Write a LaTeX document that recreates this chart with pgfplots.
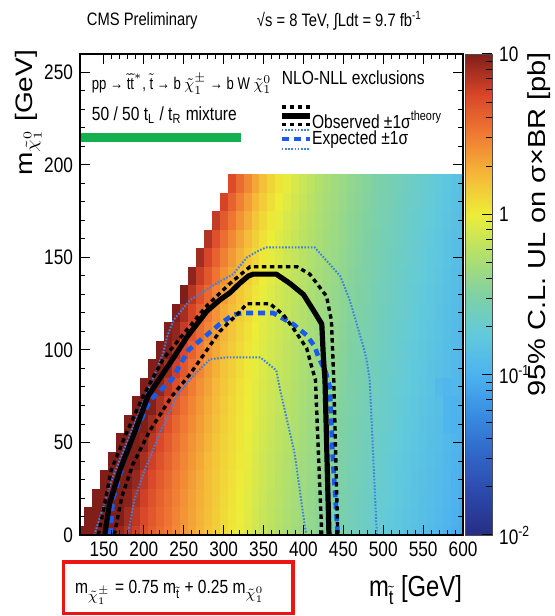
\documentclass[border=0pt]{standalone}
\usepackage{pgfplots}
\pgfplotsset{compat=1.18}
\usepackage{amsmath}
\usepackage{graphicx}
\usepackage{fontspec}
\setmainfont{Liberation Sans}[FakeStretch=0.82]
\newfontfamily\rotfont{Liberation Sans}
\pgfdeclareplotmark{cell}{\pgfpathrectangle{\pgfqpoint{-2.03pt}{-4.66pt}}{\pgfqpoint{4.06pt}{9.32pt}}\pgfusepathqfill}
\definecolor{cmsgreen}{rgb}{0.08,0.69,0.31}
\definecolor{expblue}{rgb}{0.10,0.36,0.92}
\definecolor{expblue2}{rgb}{0.25,0.50,0.88}
\definecolor{boxred}{rgb}{0.93,0.08,0.08}
\tikzset{
 obsline/.style={black,line width=2.6pt,line join=round},
 obssig/.style={black,line width=1.7pt,dash pattern=on 2.2pt off 1.8pt},
 expline/.style={expblue,line width=2.3pt,dash pattern=on 3.5pt off 2.5pt},
 expsig/.style={expblue2,line width=1pt,dash pattern=on 0.8pt off 0.8pt},
 ann/.style={inner sep=0pt,outer sep=0pt},
}
\pgfplotsset{colormap={cms}{rgb(0pt)=(0.15,0.18,0.52); rgb(25pt)=(0.17,0.28,0.66); rgb(50pt)=(0.19,0.40,0.78); rgb(75pt)=(0.22,0.55,0.88); rgb(100pt)=(0.30,0.70,0.94); rgb(125pt)=(0.38,0.79,0.86); rgb(150pt)=(0.50,0.82,0.64); rgb(175pt)=(0.70,0.88,0.42); rgb(200pt)=(0.93,0.93,0.22); rgb(225pt)=(0.96,0.72,0.22); rgb(250pt)=(0.94,0.48,0.20); rgb(275pt)=(0.85,0.27,0.16); rgb(300pt)=(0.50,0.12,0.10)}}
\begin{document}
\begin{tikzpicture}
\useasboundingbox (-40pt,-40.5pt) rectangle (237pt,267.5pt);
\begin{axis}[
 at={(0pt,0pt)}, anchor=south west,
 x=0.399pt, y=0.925pt,
 xmin=120, xmax=600, ymin=0, ymax=260,
 axis on top,
 colormap name=cms,
 point meta min=-2, point meta max=1,
 colorbar right,
 colorbar style={
  at={(parent axis.north east)}, anchor=north west, xshift=-7.5pt,
  width=13.5pt,
  ytick={-2,-1,0,1},
  yticklabels={10\textsuperscript{-2},10\textsuperscript{-1},1,10},
  minor ytick={-1.699,-1.523,-1.398,-1.301,-1.222,-1.155,-1.097,-1.046,-0.699,-0.523,-0.398,-0.301,-0.222,-0.155,-0.097,-0.046,0.301,0.477,0.602,0.699,0.778,0.845,0.903,0.954},
  ytick pos=right, yticklabel pos=right,
  tick align=inside,
  major tick length=5pt, minor tick length=3pt,
  tick style={black,line width=0.5pt},
  yticklabel style={font=\fontsize{10.5}{12}\selectfont},
  axis line style={line width=0.4pt,black!70},
 },
 xtick={150,200,...,600}, ytick={0,50,...,250},
 minor x tick num=4, minor y tick num=4,
 tick align=inside,
 major tick length=5pt, minor tick length=2.5pt,
 tick style={black,line width=0.5pt},
 axis line style={line width=0.7pt},
 /pgf/number format/assume math mode=true,
 ticklabel style={font=\fontsize{10.5}{12}\selectfont},
 clip marker paths=true,
 after end axis/.code={
  \node[ann,anchor=west,font=\fontsize{9}{11}\selectfont] at (axis description cs:0.018,1.069) {CMS Preliminary};
  \node[ann,anchor=west,font=\fontsize{9}{11}\selectfont] at (axis description cs:0.462,1.069) {√s = 8 TeV, ∫Ldt = 9.7 fb\textsuperscript{-1}};
  \node[ann,rotate=90,anchor=base east,font=\fontsize{14}{16}\selectfont\rotfont] at (axis description cs:-0.125,1.008) {\scalebox{1}[0.85]{m$_{\tilde{\chi}^{0}_{1}}$ [GeV]}};
  \node[ann,rotate=90,anchor=base east,font=\fontsize{14.5}{17}\selectfont\rotfont] at (axis description cs:1.214,1.004) {\scalebox{1}[0.85]{95\% C.L. UL on σ×BR [pb]}};
  \node[ann,anchor=base east,font=\fontsize{14.5}{17}\selectfont] at (axis description cs:0.997,-0.127) {m$_{\tilde{\text{t}}}$ [GeV]};
  \draw[boxred,line width=1.6pt] (axis description cs:-0.044,-0.056) rectangle (axis description cs:0.556,-0.164);
  \node[ann,anchor=base west,font=\fontsize{9.5}{11}\selectfont] at (axis description cs:-0.013,-0.121) {m$_{\tilde{\chi}^{\pm}_{1}}$ = 0.75 m$_{\tilde{\text{t}}}$ + 0.25 m$_{\tilde{\chi}^{0}_{1}}$};
  \node[ann,anchor=west,font=\fontsize{8.5}{10}\selectfont] at (axis description cs:0.031,0.938) {\scalebox{0.94}[1]{pp → $\tilde{\text{t}}\tilde{\text{t}}^{*}$, $\tilde{\text{t}}$ → b $\tilde{\chi}^{\pm}_{1}$ → b W $\tilde{\chi}^{0}_{1}$}};
  \node[ann,anchor=west,font=\fontsize{9.5}{11}\selectfont] at (axis description cs:0.031,0.873) {50 / 50 t$_{\text{L}}$ / t$_{\text{R}}$ mixture};
  \node[ann,anchor=west,font=\fontsize{9.5}{11}\selectfont] at (axis description cs:0.527,0.950) {NLO-NLL exclusions};
  \node[ann,anchor=west,font=\fontsize{9.5}{11}\selectfont] at (axis description cs:0.606,0.863) {Observed ±1σ\textsuperscript{theory}};
  \node[ann,anchor=west,font=\fontsize{9.5}{11}\selectfont] at (axis description cs:0.606,0.823) {Expected ±1σ};
  \draw[obsline] (axis description cs:0.527,0.871) -- (axis description cs:0.601,0.871);
  \draw[obssig] (axis description cs:0.527,0.890) -- (axis description cs:0.601,0.890);
  \draw[obssig] (axis description cs:0.527,0.854) -- (axis description cs:0.601,0.854);
  \draw[expsig] (axis description cs:0.527,0.842) -- (axis description cs:0.601,0.842);
  \draw[expsig] (axis description cs:0.527,0.802) -- (axis description cs:0.601,0.802);
  \draw[expline] (axis description cs:0.527,0.823) -- (axis description cs:0.601,0.823);
 },
]
\addplot[scatter, only marks, mark=cell, scatter src=explicit] table[row sep=\\, meta=c] {
x y c\\
120 0 1.00\\130 0 1.00\\140 0 1.00\\150 0 1.00\\160 0 1.00\\170 0 0.94\\180 0 0.86\\190 0 0.79\\200 0 0.71\\210 0 0.63\\220 0 0.57\\230 0 0.51\\240 0 0.44\\250 0 0.38\\260 0 0.32\\270 0 0.26\\280 0 0.20\\290 0 0.14\\300 0 0.08\\310 0 0.03\\320 0 -0.02\\330 0 -0.07\\340 0 -0.12\\350 0 -0.17\\360 0 -0.21\\370 0 -0.25\\380 0 -0.29\\390 0 -0.33\\400 0 -0.37\\410 0 -0.41\\420 0 -0.45\\430 0 -0.49\\440 0 -0.52\\450 0 -0.56\\460 0 -0.60\\470 0 -0.63\\480 0 -0.66\\490 0 -0.70\\500 0 -0.73\\510 0 -0.76\\520 0 -0.79\\530 0 -0.82\\540 0 -0.85\\550 0 -0.88\\560 0 -0.91\\570 0 -0.94\\580 0 -0.98\\590 0 -1.02\\600 0 -1.05\\
130 10 1.00\\140 10 1.00\\150 10 1.00\\160 10 1.00\\170 10 1.00\\180 10 0.91\\190 10 0.83\\200 10 0.74\\210 10 0.66\\220 10 0.59\\230 10 0.53\\240 10 0.46\\250 10 0.39\\260 10 0.33\\270 10 0.27\\280 10 0.21\\290 10 0.15\\300 10 0.09\\310 10 0.04\\320 10 -0.01\\330 10 -0.06\\340 10 -0.11\\350 10 -0.16\\360 10 -0.20\\370 10 -0.24\\380 10 -0.28\\390 10 -0.32\\400 10 -0.36\\410 10 -0.40\\420 10 -0.44\\430 10 -0.48\\440 10 -0.51\\450 10 -0.55\\460 10 -0.59\\470 10 -0.62\\480 10 -0.65\\490 10 -0.69\\500 10 -0.72\\510 10 -0.75\\520 10 -0.78\\530 10 -0.81\\540 10 -0.84\\550 10 -0.87\\560 10 -0.90\\570 10 -0.93\\580 10 -0.97\\590 10 -1.01\\600 10 -1.04\\
140 20 1.00\\150 20 1.00\\160 20 1.00\\170 20 1.00\\180 20 0.97\\190 20 0.88\\200 20 0.78\\210 20 0.69\\220 20 0.62\\230 20 0.55\\240 20 0.48\\250 20 0.41\\260 20 0.34\\270 20 0.28\\280 20 0.22\\290 20 0.16\\300 20 0.10\\310 20 0.05\\320 20 0.00\\330 20 -0.05\\340 20 -0.10\\350 20 -0.15\\360 20 -0.19\\370 20 -0.23\\380 20 -0.27\\390 20 -0.31\\400 20 -0.35\\410 20 -0.39\\420 20 -0.43\\430 20 -0.47\\440 20 -0.50\\450 20 -0.54\\460 20 -0.58\\470 20 -0.61\\480 20 -0.64\\490 20 -0.68\\500 20 -0.71\\510 20 -0.74\\520 20 -0.77\\530 20 -0.80\\540 20 -0.83\\550 20 -0.86\\560 20 -0.89\\570 20 -0.92\\580 20 -0.96\\590 20 -1.00\\600 20 -1.03\\
150 30 1.00\\160 30 1.00\\170 30 1.00\\180 30 1.00\\190 30 0.94\\200 30 0.83\\210 30 0.73\\220 30 0.65\\230 30 0.58\\240 30 0.50\\250 30 0.43\\260 30 0.36\\270 30 0.29\\280 30 0.23\\290 30 0.17\\300 30 0.11\\310 30 0.06\\320 30 0.01\\330 30 -0.04\\340 30 -0.09\\350 30 -0.14\\360 30 -0.18\\370 30 -0.22\\380 30 -0.26\\390 30 -0.30\\400 30 -0.34\\410 30 -0.38\\420 30 -0.42\\430 30 -0.46\\440 30 -0.49\\450 30 -0.53\\460 30 -0.57\\470 30 -0.60\\480 30 -0.63\\490 30 -0.67\\500 30 -0.70\\510 30 -0.73\\520 30 -0.76\\530 30 -0.79\\540 30 -0.82\\550 30 -0.85\\560 30 -0.88\\570 30 -0.91\\580 30 -0.95\\590 30 -0.99\\600 30 -1.02\\
160 40 1.00\\170 40 1.00\\180 40 1.00\\190 40 1.00\\200 40 0.89\\210 40 0.78\\220 40 0.69\\230 40 0.61\\240 40 0.53\\250 40 0.45\\260 40 0.38\\270 40 0.31\\280 40 0.24\\290 40 0.18\\300 40 0.12\\310 40 0.07\\320 40 0.02\\330 40 -0.03\\340 40 -0.08\\350 40 -0.13\\360 40 -0.17\\370 40 -0.21\\380 40 -0.25\\390 40 -0.29\\400 40 -0.33\\410 40 -0.37\\420 40 -0.41\\430 40 -0.45\\440 40 -0.48\\450 40 -0.52\\460 40 -0.56\\470 40 -0.59\\480 40 -0.62\\490 40 -0.66\\500 40 -0.69\\510 40 -0.72\\520 40 -0.75\\530 40 -0.78\\540 40 -0.81\\550 40 -0.84\\560 40 -0.87\\570 40 -0.90\\580 40 -0.94\\590 40 -0.98\\600 40 -1.01\\
170 50 1.00\\180 50 1.00\\190 50 1.00\\200 50 0.96\\210 50 0.84\\220 50 0.74\\230 50 0.65\\240 50 0.56\\250 50 0.48\\260 50 0.40\\270 50 0.33\\280 50 0.26\\290 50 0.19\\300 50 0.13\\310 50 0.08\\320 50 0.03\\330 50 -0.02\\340 50 -0.07\\350 50 -0.12\\360 50 -0.16\\370 50 -0.20\\380 50 -0.24\\390 50 -0.28\\400 50 -0.32\\410 50 -0.36\\420 50 -0.40\\430 50 -0.44\\440 50 -0.47\\450 50 -0.51\\460 50 -0.55\\470 50 -0.58\\480 50 -0.61\\490 50 -0.65\\500 50 -0.68\\510 50 -0.71\\520 50 -0.74\\530 50 -0.77\\540 50 -0.80\\550 50 -0.83\\560 50 -0.86\\570 50 -0.89\\580 50 -0.93\\590 50 -0.97\\600 50 -1.00\\
180 60 1.00\\190 60 1.00\\200 60 1.00\\210 60 0.91\\220 60 0.80\\230 60 0.70\\240 60 0.60\\250 60 0.51\\260 60 0.43\\270 60 0.35\\280 60 0.28\\290 60 0.21\\300 60 0.14\\310 60 0.09\\320 60 0.04\\330 60 -0.01\\340 60 -0.06\\350 60 -0.11\\360 60 -0.15\\370 60 -0.19\\380 60 -0.23\\390 60 -0.27\\400 60 -0.31\\410 60 -0.35\\420 60 -0.39\\430 60 -0.43\\440 60 -0.46\\450 60 -0.50\\460 60 -0.54\\470 60 -0.57\\480 60 -0.60\\490 60 -0.64\\500 60 -0.67\\510 60 -0.70\\520 60 -0.73\\530 60 -0.76\\540 60 -0.79\\550 60 -0.82\\560 60 -0.85\\570 60 -0.88\\580 60 -0.97\\590 60 -0.99\\600 60 -0.99\\
190 70 1.00\\200 70 1.00\\210 70 0.99\\220 70 0.87\\230 70 0.76\\240 70 0.65\\250 70 0.55\\260 70 0.46\\270 70 0.38\\280 70 0.30\\290 70 0.23\\300 70 0.16\\310 70 0.10\\320 70 0.05\\330 70 0.00\\340 70 -0.05\\350 70 -0.10\\360 70 -0.14\\370 70 -0.18\\380 70 -0.22\\390 70 -0.26\\400 70 -0.30\\410 70 -0.34\\420 70 -0.38\\430 70 -0.42\\440 70 -0.45\\450 70 -0.49\\460 70 -0.53\\470 70 -0.56\\480 70 -0.59\\490 70 -0.63\\500 70 -0.66\\510 70 -0.69\\520 70 -0.72\\530 70 -0.75\\540 70 -0.78\\550 70 -0.81\\560 70 -0.84\\570 70 -0.87\\580 70 -0.97\\590 70 -0.99\\600 70 -0.98\\
200 80 1.00\\210 80 1.00\\220 80 0.95\\230 80 0.83\\240 80 0.71\\250 80 0.60\\260 80 0.50\\270 80 0.41\\280 80 0.33\\290 80 0.25\\300 80 0.18\\310 80 0.12\\320 80 0.06\\330 80 0.01\\340 80 -0.04\\350 80 -0.09\\360 80 -0.13\\370 80 -0.17\\380 80 -0.21\\390 80 -0.25\\400 80 -0.29\\410 80 -0.33\\420 80 -0.37\\430 80 -0.41\\440 80 -0.44\\450 80 -0.48\\460 80 -0.52\\470 80 -0.55\\480 80 -0.58\\490 80 -0.62\\500 80 -0.65\\510 80 -0.68\\520 80 -0.71\\530 80 -0.74\\540 80 -0.77\\550 80 -0.80\\560 80 -0.83\\570 80 -0.92\\580 80 -0.96\\590 80 -0.94\\600 80 -0.97\\
210 90 1.00\\220 90 1.00\\230 90 0.91\\240 90 0.78\\250 90 0.66\\260 90 0.55\\270 90 0.45\\280 90 0.36\\290 90 0.28\\300 90 0.20\\310 90 0.14\\320 90 0.08\\330 90 0.02\\340 90 -0.03\\350 90 -0.08\\360 90 -0.12\\370 90 -0.16\\380 90 -0.20\\390 90 -0.24\\400 90 -0.28\\410 90 -0.32\\420 90 -0.36\\430 90 -0.40\\440 90 -0.43\\450 90 -0.47\\460 90 -0.51\\470 90 -0.54\\480 90 -0.57\\490 90 -0.61\\500 90 -0.64\\510 90 -0.67\\520 90 -0.70\\530 90 -0.73\\540 90 -0.76\\550 90 -0.79\\560 90 -0.82\\570 90 -0.85\\580 90 -0.89\\590 90 -0.93\\600 90 -0.96\\
220 100 1.00\\230 100 1.00\\240 100 0.86\\250 100 0.73\\260 100 0.61\\270 100 0.50\\280 100 0.40\\290 100 0.31\\300 100 0.23\\310 100 0.16\\320 100 0.10\\330 100 0.04\\340 100 -0.02\\350 100 -0.07\\360 100 -0.11\\370 100 -0.15\\380 100 -0.19\\390 100 -0.23\\400 100 -0.27\\410 100 -0.31\\420 100 -0.35\\430 100 -0.39\\440 100 -0.42\\450 100 -0.46\\460 100 -0.50\\470 100 -0.53\\480 100 -0.56\\490 100 -0.60\\500 100 -0.63\\510 100 -0.66\\520 100 -0.69\\530 100 -0.72\\540 100 -0.75\\550 100 -0.78\\560 100 -0.81\\570 100 -0.84\\580 100 -0.88\\590 100 -0.92\\600 100 -0.95\\
230 110 1.00\\240 110 0.95\\250 110 0.81\\260 110 0.68\\270 110 0.56\\280 110 0.45\\290 110 0.35\\300 110 0.26\\310 110 0.19\\320 110 0.12\\330 110 0.06\\340 110 0.00\\350 110 -0.06\\360 110 -0.10\\370 110 -0.14\\380 110 -0.18\\390 110 -0.22\\400 110 -0.26\\410 110 -0.30\\420 110 -0.34\\430 110 -0.38\\440 110 -0.41\\450 110 -0.45\\460 110 -0.49\\470 110 -0.52\\480 110 -0.55\\490 110 -0.59\\500 110 -0.62\\510 110 -0.65\\520 110 -0.68\\530 110 -0.71\\540 110 -0.74\\550 110 -0.77\\560 110 -0.80\\570 110 -0.83\\580 110 -0.87\\590 110 -0.91\\600 110 -0.94\\
240 120 1.00\\250 120 0.90\\260 120 0.76\\270 120 0.63\\280 120 0.51\\290 120 0.40\\300 120 0.30\\310 120 0.22\\320 120 0.15\\330 120 0.08\\340 120 0.02\\350 120 -0.04\\360 120 -0.09\\370 120 -0.13\\380 120 -0.17\\390 120 -0.21\\400 120 -0.25\\410 120 -0.29\\420 120 -0.33\\430 120 -0.37\\440 120 -0.40\\450 120 -0.44\\460 120 -0.48\\470 120 -0.51\\480 120 -0.54\\490 120 -0.58\\500 120 -0.61\\510 120 -0.64\\520 120 -0.67\\530 120 -0.70\\540 120 -0.73\\550 120 -0.76\\560 120 -0.79\\570 120 -0.82\\580 120 -0.86\\590 120 -0.90\\600 120 -0.93\\
250 130 1.00\\260 130 0.85\\270 130 0.71\\280 130 0.58\\290 130 0.46\\300 130 0.35\\310 130 0.26\\320 130 0.18\\330 130 0.11\\340 130 0.04\\350 130 -0.02\\360 130 -0.07\\370 130 -0.12\\380 130 -0.16\\390 130 -0.20\\400 130 -0.24\\410 130 -0.28\\420 130 -0.32\\430 130 -0.36\\440 130 -0.39\\450 130 -0.43\\460 130 -0.47\\470 130 -0.50\\480 130 -0.53\\490 130 -0.57\\500 130 -0.60\\510 130 -0.63\\520 130 -0.66\\530 130 -0.69\\540 130 -0.72\\550 130 -0.75\\560 130 -0.78\\570 130 -0.81\\580 130 -0.85\\590 130 -0.89\\600 130 -0.92\\
260 140 0.96\\270 140 0.80\\280 140 0.66\\290 140 0.53\\300 140 0.41\\310 140 0.31\\320 140 0.22\\330 140 0.14\\340 140 0.07\\350 140 0.00\\360 140 -0.05\\370 140 -0.10\\380 140 -0.15\\390 140 -0.19\\400 140 -0.23\\410 140 -0.27\\420 140 -0.31\\430 140 -0.35\\440 140 -0.38\\450 140 -0.42\\460 140 -0.46\\470 140 -0.49\\480 140 -0.52\\490 140 -0.56\\500 140 -0.59\\510 140 -0.62\\520 140 -0.65\\530 140 -0.68\\540 140 -0.71\\550 140 -0.74\\560 140 -0.77\\570 140 -0.80\\580 140 -0.84\\590 140 -0.88\\600 140 -0.91\\
270 150 0.91\\280 150 0.75\\290 150 0.61\\300 150 0.48\\310 150 0.37\\320 150 0.27\\330 150 0.18\\340 150 0.10\\350 150 0.03\\360 150 -0.03\\370 150 -0.08\\380 150 -0.13\\390 150 -0.18\\400 150 -0.22\\410 150 -0.26\\420 150 -0.30\\430 150 -0.34\\440 150 -0.37\\450 150 -0.41\\460 150 -0.45\\470 150 -0.48\\480 150 -0.51\\490 150 -0.55\\500 150 -0.58\\510 150 -0.61\\520 150 -0.64\\530 150 -0.67\\540 150 -0.70\\550 150 -0.73\\560 150 -0.76\\570 150 -0.79\\580 150 -0.83\\590 150 -0.87\\600 150 -0.90\\
280 160 0.86\\290 160 0.70\\300 160 0.56\\310 160 0.44\\320 160 0.33\\330 160 0.23\\340 160 0.14\\350 160 0.06\\360 160 0.00\\370 160 -0.06\\380 160 -0.11\\390 160 -0.16\\400 160 -0.21\\410 160 -0.25\\420 160 -0.29\\430 160 -0.33\\440 160 -0.36\\450 160 -0.40\\460 160 -0.44\\470 160 -0.47\\480 160 -0.50\\490 160 -0.54\\500 160 -0.57\\510 160 -0.60\\520 160 -0.63\\530 160 -0.66\\540 160 -0.69\\550 160 -0.72\\560 160 -0.75\\570 160 -0.78\\580 160 -0.82\\590 160 -0.86\\600 160 -0.89\\
290 170 0.81\\300 170 0.65\\310 170 0.52\\320 170 0.40\\330 170 0.29\\340 170 0.19\\350 170 0.10\\360 170 0.03\\370 170 -0.03\\380 170 -0.09\\390 170 -0.14\\400 170 -0.19\\410 170 -0.24\\420 170 -0.28\\430 170 -0.32\\440 170 -0.35\\450 170 -0.39\\460 170 -0.43\\470 170 -0.46\\480 170 -0.49\\490 170 -0.53\\500 170 -0.56\\510 170 -0.59\\520 170 -0.62\\530 170 -0.65\\540 170 -0.68\\550 170 -0.71\\560 170 -0.74\\570 170 -0.77\\580 170 -0.81\\590 170 -0.85\\600 170 -0.88\\
300 180 0.76\\310 180 0.61\\320 180 0.48\\330 180 0.36\\340 180 0.25\\350 180 0.15\\360 180 0.07\\370 180 0.00\\380 180 -0.06\\390 180 -0.12\\400 180 -0.17\\410 180 -0.22\\420 180 -0.27\\430 180 -0.31\\440 180 -0.34\\450 180 -0.38\\460 180 -0.42\\470 180 -0.45\\480 180 -0.48\\490 180 -0.52\\500 180 -0.55\\510 180 -0.58\\520 180 -0.61\\530 180 -0.64\\540 180 -0.67\\550 180 -0.70\\560 180 -0.73\\570 180 -0.76\\580 180 -0.80\\590 180 -0.84\\600 180 -0.87\\
310 190 0.72\\320 190 0.57\\330 190 0.44\\340 190 0.32\\350 190 0.21\\360 190 0.12\\370 190 0.04\\380 190 -0.03\\390 190 -0.09\\400 190 -0.15\\410 190 -0.20\\420 190 -0.25\\430 190 -0.30\\440 190 -0.33\\450 190 -0.37\\460 190 -0.41\\470 190 -0.44\\480 190 -0.47\\490 190 -0.51\\500 190 -0.54\\510 190 -0.57\\520 190 -0.60\\530 190 -0.63\\540 190 -0.66\\550 190 -0.69\\560 190 -0.72\\570 190 -0.75\\580 190 -0.79\\590 190 -0.83\\600 190 -0.86\\
};
% green bar
\addplot[draw=cmsgreen, line width=4.3pt, forget plot] coordinates {(120,215) (322,215)};
% expected +-1 sigma
\addplot[expsig] coordinates {(138,0) (160,30) (190,62) (224,98) (229,107) (237,116) (258,127) (291,136) (312,141) (329,150) (345,154) (354,155.5) (414,155.5) (446,140) (458,127) (475,102) (479,95) (483,84) (492,0)};
\addplot[expsig] coordinates {(180,0) (188,19) (201,35) (220,55) (241,75) (262,86) (283,95) (304,96) (346,96) (366,89) (371,78) (389,44) (402,4) (404,0)};
% expected
\addplot[expline] coordinates {(158,0) (161,19) (179,46) (208,73) (235,84) (256,100) (270,105) (287,111) (295,114) (312,119) (323,120) (362,120) (387,114) (404,108) (414,102) (419,96) (428,88) (433,80) (437,40) (443,0)};
% observed +-1 sigma theory
\addplot[obssig] coordinates {(143,0) (151,17) (159,35) (178,55) (199,75) (224,95) (254,111) (279,124) (308,136) (333,145) (392,145) (408,141) (429,129) (435,116) (437,95) (438,84) (443,0)};
\addplot[obssig] coordinates {(163,0) (172,20) (186,38) (207,56) (235,75) (258,87) (279,100) (295,110) (321,121) (329,125) (358,125) (375,119) (390,110) (404,101) (409,93) (415,84) (423,0)};
% observed
\addplot[obsline] coordinates {(151,0) (157,17) (170,35) (188,55) (205,75) (233,93) (254,107) (279,121) (295,127) (308,131) (320,136) (331,140) (337,141) (366,141) (383,136) (400,130) (416,119) (423,114) (425,96) (427,84) (432,0)};
\end{axis}
\end{tikzpicture}
\end{document}
